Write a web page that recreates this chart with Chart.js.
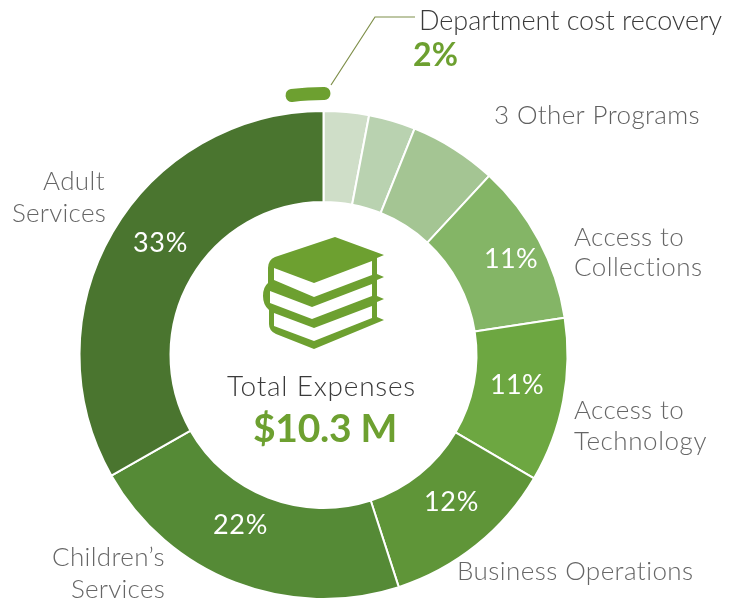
<!DOCTYPE html>
<html><head><meta charset="utf-8">
<style>html,body{margin:0;padding:0;background:#fff;width:740px;height:601px;overflow:hidden}canvas{display:block}</style>
<script src="https://cdn.jsdelivr.net/npm/chart.js@4"></script></head>
<body><canvas id="c" width="740" height="710"></canvas>
<script>
const categories=["Other Program A","Other Program B","Other Program C","Access to Collections","Access to Technology","Business Operations","Children's Services","Adult Services"];
const values=[3.0,3.1,5.8,10.7,10.9,11.6,21.8,33.3];
const colors=["#CFDEC8","#B9D2B0","#A4C593","#84B566","#6DA741","#5F9538","#558A36","#4A752F"];
const recoveryValues=[2,98];
const recoveryRotation=-7;
const G="#6DA030";
const L="#666666";
const texts=[
 ["Department cost recovery",419,30,"27px","300","#3A3A3A",303],
 ["2%",413,66,"32px","700",G,45],
 ["3 Other Programs",494,124,"26px","300","#606060",206],
 ["Access to",574,246,"26px","300",L,110],
 ["Collections",574,276,"26px","300",L,129],
 ["Access to",574,419,"26px","300",L,110],
 ["Technology",574,450,"26px","300",L,133],
 ["Business Operations",457,580,"26px","300",L,237],
 ["Children\u2019s",52,566,"26px","300",L,113],
 ["Services",71,598,"26px","300",L,94],
 ["Adult",43,190,"26px","300",L,62],
 ["Services",12,222,"26px","300",L,94],
 ["33%",133,252,"27px","400","#fff",55],
 ["22%",213,534,"27px","400","#fff",55],
 ["12%",424,511,"27px","400","#fff",55],
 ["11%",490,394,"27px","400","#fff",54],
 ["11%",484,268,"27px","400","#fff",54],
 ["Total Expenses",227,396,"28px","300","#3A3A3A",189],
 ["$10.3 M",253,442,"39px","700",G,144]
];
const bookCover="M335 237L384 255L377 258V274L384 277L377 280V296L384 299L377 302V317L384 320L314 349L276 334Q269 331 269 324V310Q263 305 263 296Q263 287 268 283V268Q268 260 275 257Z";
const bookPages=["M274 268L314 283L372 261V275L314 297L274 280Z","M270 291L312 307L372 284V296L312 319L270 303Z","M274 313L314 328L372 306V318L314 341L274 326Z"];
const overlay={id:'overlay',afterDraw(ch){
  const x=ch.ctx;x.save();
  x.strokeStyle="#7F8F4A";x.lineWidth=1.2;x.beginPath();x.moveTo(331,85);x.lineTo(375,17);x.lineTo(415,17);x.stroke();
  x.fillStyle=G;x.fill(new Path2D(bookCover));
  x.fillStyle="#fff";bookPages.forEach(p=>x.fill(new Path2D(p)));
  x.textBaseline='alphabetic';x.textAlign='left';
  texts.forEach(([s,px,py,size,w,col,fit])=>{
    x.font=`${w} ${size} Lato`;x.fillStyle=col;x.letterSpacing='0px';
    const m=x.measureText(s).width;x.letterSpacing=((fit-m)/s.length)+'px';
    x.fillText(s,px,py);
  });
  x.restore();
}};
new Chart(document.getElementById('c'),{type:'doughnut',
 data:{labels:categories,datasets:[
  {data:recoveryValues,backgroundColor:[G,'rgba(0,0,0,0)'],borderColor:[G,'rgba(0,0,0,0)'],borderWidth:[12,0],borderJoinStyle:'round',borderAlign:'center',rotation:recoveryRotation,weight:1},
  {data:[1],backgroundColor:['rgba(0,0,0,0)'],borderWidth:0,weight:17},
  {data:values,backgroundColor:colors,borderColor:'#fff',borderWidth:2,weight:91}
 ]},
 options:{responsive:false,animation:false,radius:262,cutout:'58.4%',
  layout:{padding:{right:93}},
  plugins:{legend:{display:false},tooltip:{enabled:false},title:{display:false}}},
 plugins:[overlay]});
</script></body></html>
